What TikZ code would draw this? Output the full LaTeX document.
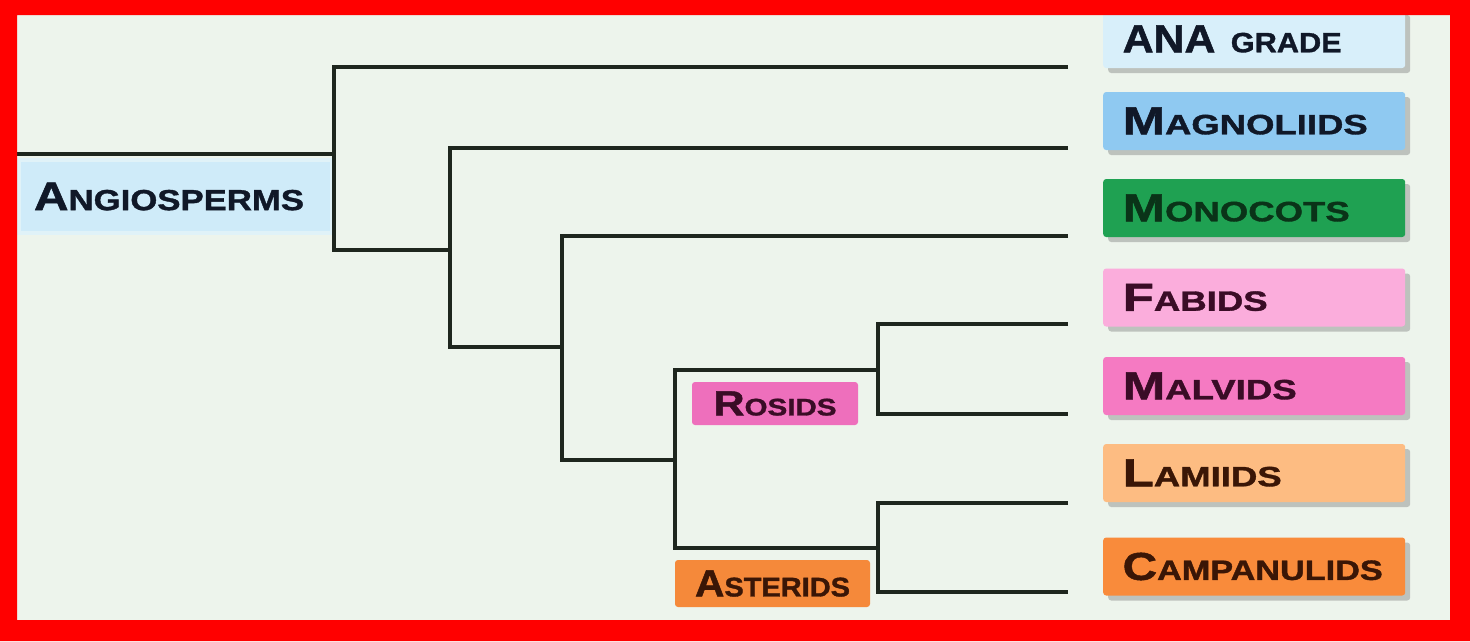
\documentclass[tikz,border=0pt]{standalone}
\usepackage{fontspec}
\setmainfont{Liberation Sans}[BoldFeatures={FakeBold=1.2}]
\usepackage{graphicx}
\usetikzlibrary{shadows}
\definecolor{frame}{HTML}{FF0000}
\definecolor{bg}{HTML}{EDF4EC}
\definecolor{branch}{HTML}{1E261E}
\definecolor{angbg}{HTML}{CFEBF9}
\definecolor{angedge}{HTML}{E0F2F8}
\definecolor{anac}{HTML}{D8EFFA}
\definecolor{magc}{HTML}{8FC9F1}
\definecolor{monc}{HTML}{1FA152}
\definecolor{fabc}{HTML}{FBADDC}
\definecolor{malc}{HTML}{F57AC2}
\definecolor{lamc}{HTML}{FDBC82}
\definecolor{camc}{HTML}{F98B3B}
\definecolor{rosc}{HTML}{EE6FBC}
\definecolor{astc}{HTML}{F5893A}
\definecolor{tnavy}{HTML}{101828}
\definecolor{tgreen}{HTML}{0A3318}
\definecolor{tmaroon}{HTML}{3A0C26}
\definecolor{tbrown}{HTML}{3A1606}
% #1 big initial, #2 small-cap rest, #3 big size, #4 small size, #5 target width
\newcommand\clab[5]{\resizebox{#5pt}{\height}{\bfseries{\fontsize{#3}{#3}\selectfont #1}{\fontsize{#4}{#4}\selectfont #2}}}
\begin{document}
\begin{tikzpicture}[x=1pt,y=-1pt,
  br/.style={line width=3.2pt, draw=branch},
  leafbox/.style={anchor=west, rounded corners=3pt, minimum width=302pt, minimum height=58pt,
    inner xsep=19.5pt, text width=263pt, align=left,
    drop shadow={shadow xshift=5pt, shadow yshift=-5pt, fill=black!60, opacity=.35}},
  midbox/.style={rounded corners=3pt, inner sep=0pt}]
\useasboundingbox (0,0) rectangle (1470,641);
\fill[frame] (0,0) rectangle (1470,641);
\fill[bg] (17,15) rectangle (1450,620);

% root label
\node[anchor=west, fill=angbg, draw=angedge, line width=4pt, minimum width=313pt, minimum height=73pt, inner xsep=15pt,
  text width=283pt, align=left, text=tnavy] (angio) at (17,196.5)
  {\clab{A}{NGIOSPERMS}{40}{29}{270}};

% junction coordinates
\coordinate (root) at (17,154);
\coordinate (n1a) at (334,67);   \coordinate (n1b) at (334,250);
\coordinate (n2a) at (450,148);  \coordinate (n2b) at (450,347);
\coordinate (n3a) at (562,236);  \coordinate (n3b) at (562,460);
\coordinate (n4a) at (675,370);  \coordinate (n4b) at (675,548);
\coordinate (n5a) at (878,324);  \coordinate (n5b) at (878,414);
\coordinate (n6a) at (878,503);  \coordinate (n6b) at (878,592);
\coordinate (lANA) at (1068,67);
\coordinate (lMAG) at (1068,148);
\coordinate (lMON) at (1068,236);
\coordinate (lFAB) at (1068,324);
\coordinate (lMAL) at (1068,414);
\coordinate (lLAM) at (1068,503);
\coordinate (lCAM) at (1068,592);

% branches
\draw[br] (root) -- (root -| n1a);
\draw[br] (lANA) -- (n1a) -- (n1b) -- (n1b -| n2a);
\draw[br] (lMAG) -- (n2a) -- (n2b) -- (n2b -| n3a);
\draw[br] (lMON) -- (n3a) -- (n3b) -- (n3b -| n4a);
\draw[br] (n4a -| n5a) -- (n4a) -- (n4b) -- (n4b -| n6a);
\draw[br] (lFAB) -- (n5a) -- (n5b) -- (lMAL);
\draw[br] (lLAM) -- (n6a) -- (n6b) -- (lCAM);

% clade labels
\node[midbox, fill=rosc, minimum width=166pt, minimum height=43pt, text=tmaroon] (rosids) at (775,403.5)
  {\clab{R}{OSIDS}{35}{24}{123}};
\node[midbox, fill=astc, minimum width=195pt, minimum height=47pt, text=tbrown] (asterids) at (772.5,583.5)
  {\clab{A}{STERIDS}{38}{27}{155}};

% leaf labels
\node[leafbox, fill=anac, text=tnavy] (ana) at (1103,39) {\clab{ANA}{\hspace*{14pt}GRADE}{39}{28}{219}};
\node[leafbox, fill=magc, text=tnavy] (mag) at (1103,121) {\clab{M}{AGNOLIIDS}{39}{28}{245}};
\node[leafbox, fill=monc, text=tgreen] (mon) at (1103,208) {\clab{M}{ONOCOTS}{39}{28}{227}};
\node[leafbox, fill=fabc, text=tmaroon] (fab) at (1103,297.5) {\clab{F}{ABIDS}{39}{28}{145}};
\node[leafbox, fill=malc, text=tmaroon] (mal) at (1103,386) {\clab{M}{ALVIDS}{39}{28}{174}};
\node[leafbox, fill=lamc, text=tbrown] (lam) at (1103,473) {\clab{L}{AMIIDS}{39}{28}{159}};
\node[leafbox, fill=camc, text=tbrown] (cam) at (1103,566.5) {\clab{C}{AMPANULIDS}{39}{28}{260}};

% frame on top
\fill[frame, even odd rule] (0,0) rectangle (1470,641) (17,15) rectangle (1450,620);
\end{tikzpicture}
\end{document}
